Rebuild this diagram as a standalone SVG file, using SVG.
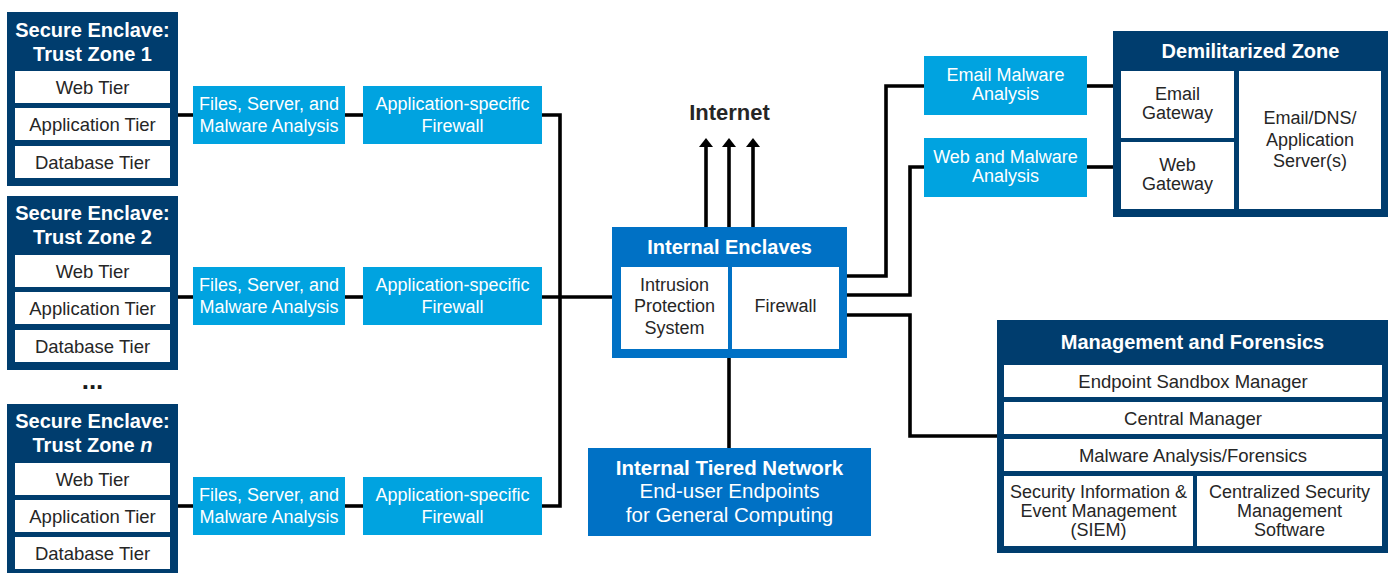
<svg xmlns="http://www.w3.org/2000/svg" width="1392" height="573" viewBox="0 0 1392 573">
<defs>
<style>
.navy{fill:#003d6e}
.mid{fill:#0071c5}
.light{fill:#00a3e0}
.wbox{fill:#ffffff}
text{font-family:"Liberation Sans",Arial,sans-serif;text-anchor:middle}
.ttl{font-weight:bold;font-size:20px;fill:#ffffff}
.tier{font-size:18.5px;fill:#262626}
.lt{font-size:18px;fill:#ffffff}
.wt{font-size:18px;fill:#262626}
.conn{fill:none;stroke:#000;stroke-width:3.6}
</style>
<marker id="ah" markerUnits="userSpaceOnUse" markerWidth="9" markerHeight="14" refX="0" refY="7" orient="auto" viewBox="0 0 9 14">
<path d="M0,0 L9,7 L0,14 Z" fill="#000"/>
</marker>
</defs>
<rect width="1392" height="573" fill="#ffffff"/>

<g id="connectors">
<path class="conn" d="M178,115 H193"/>
<path class="conn" d="M345,115 H363"/>
<path class="conn" d="M178,297 H193"/>
<path class="conn" d="M345,297 H363"/>
<path class="conn" d="M178,506 H193"/>
<path class="conn" d="M345,506 H363"/>
<path class="conn" d="M542,115 H560 V506 H542"/>
<path class="conn" d="M542,297 H612"/>
<path class="conn" d="M706,227 V147" marker-end="url(#ah)"/>
<path class="conn" d="M729,227 V147" marker-end="url(#ah)"/>
<path class="conn" d="M753,227 V147" marker-end="url(#ah)"/>
<path class="conn" d="M729,358 V448"/>
<path class="conn" d="M847,276 H886 V86 H924"/>
<path class="conn" d="M847,295 H910 V167 H924"/>
<path class="conn" d="M847,315 H910 V436 H997"/>
<path class="conn" d="M1087,86 H1113"/>
<path class="conn" d="M1087,167 H1113"/>
</g>

<g id="enclave1">
<rect class="navy" x="7" y="12" width="171" height="174"/>
<text class="ttl" x="92.5" y="37">Secure Enclave:</text>
<text class="ttl" x="92.5" y="61">Trust Zone 1</text>
<rect class="wbox" x="15" y="71" width="155" height="32"/>
<text class="tier" x="92.5" y="93.5">Web Tier</text>
<rect class="wbox" x="15" y="108" width="155" height="32"/>
<text class="tier" x="92.5" y="130.5">Application Tier</text>
<rect class="wbox" x="15" y="146" width="155" height="32"/>
<text class="tier" x="92.5" y="168.5">Database Tier</text>
</g>

<g id="enclave2">
<rect class="navy" x="7" y="196" width="171" height="174"/>
<text class="ttl" x="92.5" y="220">Secure Enclave:</text>
<text class="ttl" x="92.5" y="244">Trust Zone 2</text>
<rect class="wbox" x="15" y="255" width="155" height="32"/>
<text class="tier" x="92.5" y="277.5">Web Tier</text>
<rect class="wbox" x="15" y="292" width="155" height="32"/>
<text class="tier" x="92.5" y="314.5">Application Tier</text>
<rect class="wbox" x="15" y="330" width="155" height="32"/>
<text class="tier" x="92.5" y="352.5">Database Tier</text>
</g>

<g id="ellipsis">
<text x="92.5" y="389" style="font-weight:bold;font-size:26px;fill:#1a1a1a">...</text>
</g>

<g id="enclaveN">
<rect class="navy" x="7" y="404" width="171" height="174"/>
<text class="ttl" x="92.5" y="428">Secure Enclave:</text>
<text class="ttl" x="92.5" y="452">Trust Zone <tspan font-style="italic">n</tspan></text>
<rect class="wbox" x="15" y="463" width="155" height="32"/>
<text class="tier" x="92.5" y="485.5">Web Tier</text>
<rect class="wbox" x="15" y="500" width="155" height="32"/>
<text class="tier" x="92.5" y="522.5">Application Tier</text>
<rect class="wbox" x="15" y="537" width="155" height="32"/>
<text class="tier" x="92.5" y="559.5">Database Tier</text>
</g>

<g id="files1">
<rect class="light" x="193" y="86" width="152" height="58"/>
<text class="lt" x="269" y="110">Files, Server, and</text>
<text class="lt" x="269" y="131.5">Malware Analysis</text>
</g>
<g id="appfw1">
<rect class="light" x="363" y="86" width="179" height="58"/>
<text class="lt" x="452.5" y="110">Application-specific</text>
<text class="lt" x="452.5" y="131.5">Firewall</text>
</g>
<g id="files2">
<rect class="light" x="193" y="267" width="152" height="58"/>
<text class="lt" x="269" y="291">Files, Server, and</text>
<text class="lt" x="269" y="312.5">Malware Analysis</text>
</g>
<g id="appfw2">
<rect class="light" x="363" y="267" width="179" height="58"/>
<text class="lt" x="452.5" y="291">Application-specific</text>
<text class="lt" x="452.5" y="312.5">Firewall</text>
</g>
<g id="files3">
<rect class="light" x="193" y="477" width="152" height="58"/>
<text class="lt" x="269" y="501">Files, Server, and</text>
<text class="lt" x="269" y="522.5">Malware Analysis</text>
</g>
<g id="appfw3">
<rect class="light" x="363" y="477" width="179" height="58"/>
<text class="lt" x="452.5" y="501">Application-specific</text>
<text class="lt" x="452.5" y="522.5">Firewall</text>
</g>

<g id="internet">
<text x="729.5" y="120" style="font-weight:bold;font-size:22px;fill:#262626">Internet</text>
</g>

<g id="internal-enclaves">
<rect class="mid" x="612" y="227" width="235" height="131"/>
<text class="ttl" x="729.5" y="254">Internal Enclaves</text>
<rect class="wbox" x="621" y="267" width="107" height="82"/>
<text class="wt" x="674.5" y="290.5">Intrusion</text>
<text class="wt" x="674.5" y="312">Protection</text>
<text class="wt" x="674.5" y="333.5">System</text>
<rect class="wbox" x="732" y="267" width="107" height="82"/>
<text class="wt" x="785.5" y="312">Firewall</text>
</g>

<g id="internal-tiered">
<rect class="mid" x="588" y="448" width="283" height="88"/>
<text x="729.5" y="474.5" style="font-weight:bold;font-size:20.5px;fill:#ffffff">Internal Tiered Network</text>
<text x="729.5" y="498" style="font-size:20.5px;fill:#ffffff">End-user Endpoints</text>
<text x="729.5" y="521.5" style="font-size:20.5px;fill:#ffffff">for General Computing</text>
</g>

<g id="email-malware">
<rect class="light" x="924" y="56" width="163" height="59"/>
<text class="lt" x="1005.5" y="81">Email Malware</text>
<text class="lt" x="1005.5" y="100">Analysis</text>
</g>
<g id="web-malware">
<rect class="light" x="924" y="138" width="163" height="59"/>
<text class="lt" x="1005.5" y="163">Web and Malware</text>
<text class="lt" x="1005.5" y="182">Analysis</text>
</g>

<g id="dmz">
<rect class="navy" x="1113" y="31" width="275" height="186"/>
<text class="ttl" x="1250.5" y="57.5">Demilitarized Zone</text>
<rect class="wbox" x="1121" y="71" width="113" height="67"/>
<text class="wt" x="1177.5" y="100">Email</text>
<text class="wt" x="1177.5" y="119">Gateway</text>
<rect class="wbox" x="1121" y="142" width="113" height="67"/>
<text class="wt" x="1177.5" y="171">Web</text>
<text class="wt" x="1177.5" y="190">Gateway</text>
<rect class="wbox" x="1239" y="71" width="142" height="138"/>
<text class="wt" x="1310" y="124">Email/DNS/</text>
<text class="wt" x="1310" y="145.5">Application</text>
<text class="wt" x="1310" y="167">Server(s)</text>
</g>

<g id="management">
<rect class="navy" x="997" y="320" width="391" height="233"/>
<text class="ttl" x="1192.5" y="348.5">Management and Forensics</text>
<rect class="wbox" x="1004" y="365" width="378" height="32"/>
<text class="tier" x="1193" y="387.5">Endpoint Sandbox Manager</text>
<rect class="wbox" x="1004" y="402" width="378" height="32"/>
<text class="tier" x="1193" y="424.5">Central Manager</text>
<rect class="wbox" x="1004" y="439" width="378" height="32"/>
<text class="tier" x="1193" y="461.5">Malware Analysis/Forensics</text>
<rect class="wbox" x="1004" y="476" width="189" height="70"/>
<text class="wt" x="1098.5" y="497.5">Security Information &amp;</text>
<text class="wt" x="1098.5" y="516.5">Event Management</text>
<text class="wt" x="1098.5" y="535.5">(SIEM)</text>
<rect class="wbox" x="1197" y="476" width="185" height="70"/>
<text class="wt" x="1289.5" y="497.5">Centralized Security</text>
<text class="wt" x="1289.5" y="516.5">Management</text>
<text class="wt" x="1289.5" y="535.5">Software</text>
</g>
</svg>
